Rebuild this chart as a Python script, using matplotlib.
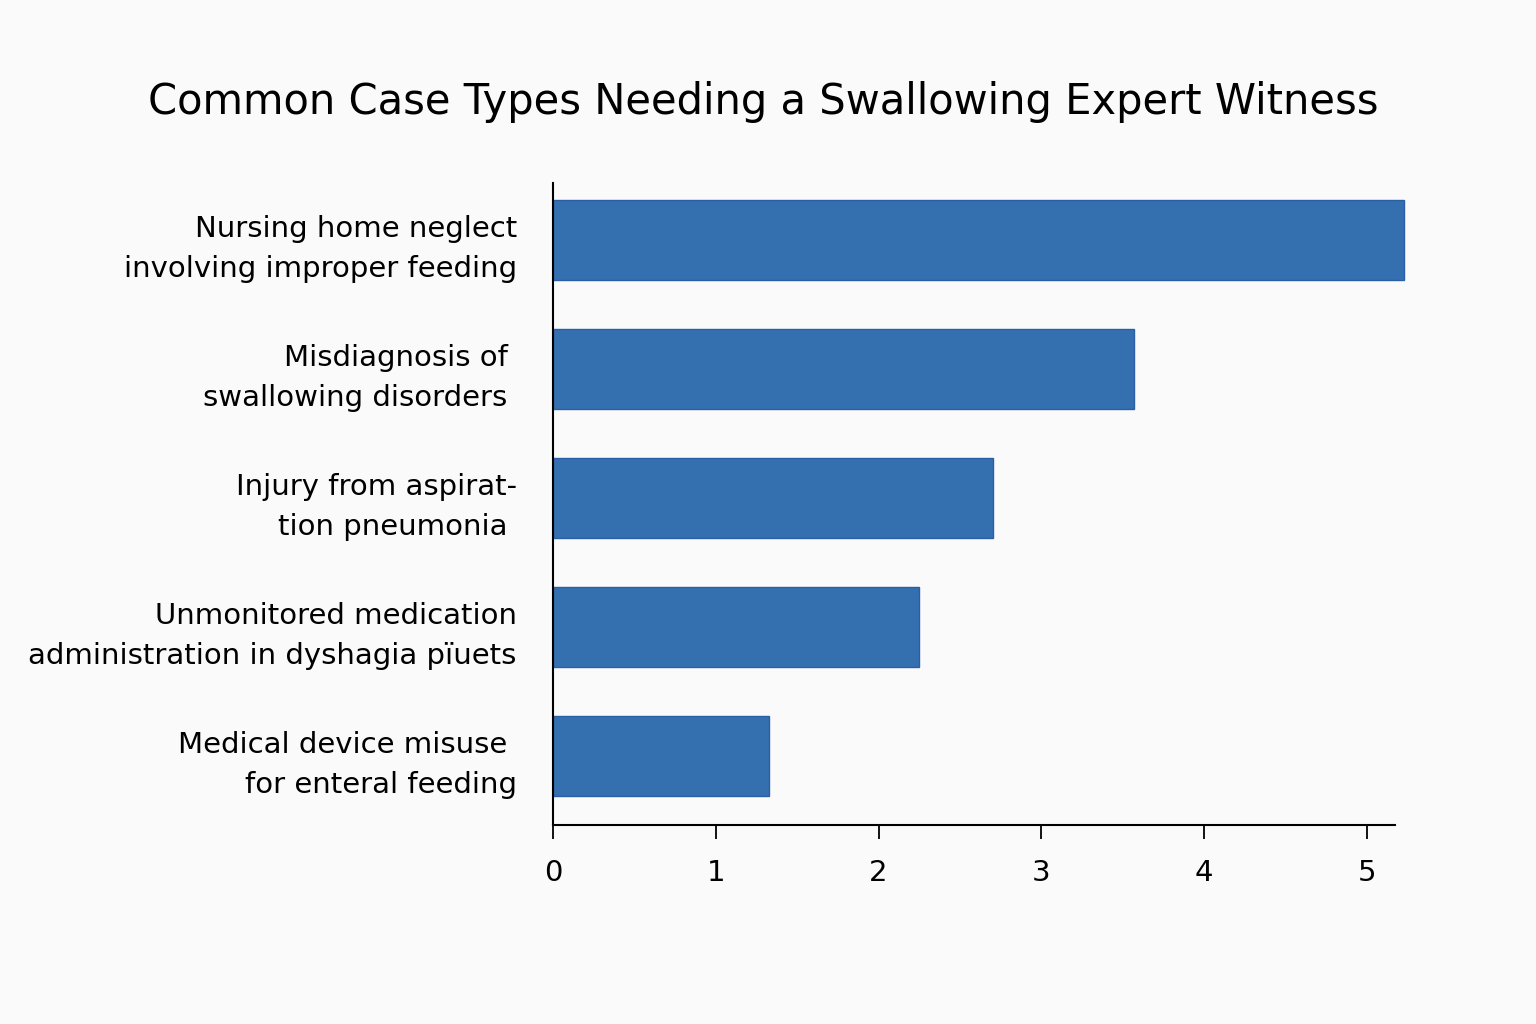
import matplotlib.pyplot as plt

categories = [
    "Nursing home neglect\ninvolving improper feeding",
    "Misdiagnosis of \nswallowing disorders ",
    "Injury from aspirat-\ntion pneumonia ",
    "Unmonitored medication\nadministration in dyshagia pïuets",
    "Medical device misuse \nfor enteral feeding",
]
values = [5.23, 3.57, 2.70, 2.25, 1.33]
ticks = [0, 1, 2, 3, 4, 5]

fig = plt.figure(figsize=(15.36, 10.24), dpi=100, facecolor="#fafafa")
ax = fig.add_axes([0.36, 0.194, 0.548, 0.627], facecolor="#fafafa")

ypos = list(range(len(categories)))
ax.barh(ypos, values, height=0.62, color="#3470b0", edgecolor="#2a5fa8",
        linewidth=1, clip_on=False)

ax.set_xlim(0, 5.17)
ax.set_ylim(4.535, -0.44)
ax.set_xticks(ticks)
ax.set_yticks(ypos)
ax.set_yticklabels(categories, fontsize=21, linespacing=1.55)
ax.tick_params(axis="y", length=0, pad=26)
ax.tick_params(axis="x", labelsize=21, length=10, width=1.3, pad=14)
for s in ["top", "right"]:
    ax.spines[s].set_visible(False)
ax.spines["left"].set_linewidth(1.5)
ax.spines["bottom"].set_linewidth(1.5)

fig.text(0.497, 0.9, "Common Case Types Needing a Swallowing Expert Witness",
         ha="center", va="center", fontsize=30)

fig.savefig("out.png", dpi=100, facecolor=fig.get_facecolor())
